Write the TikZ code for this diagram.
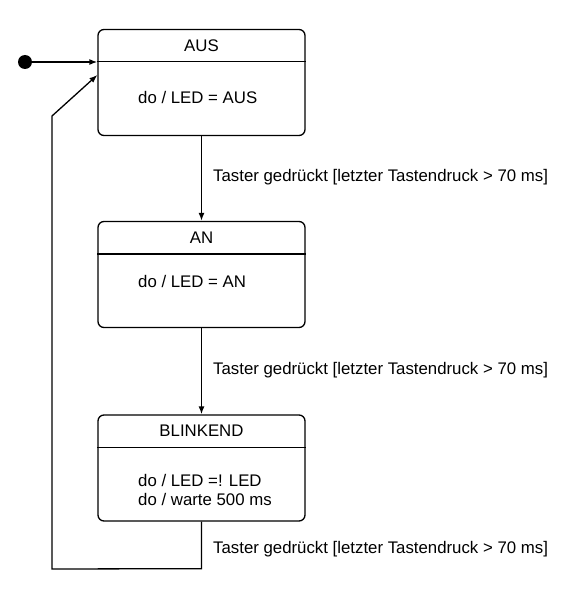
\documentclass[tikz,border=0pt]{standalone}
\usepackage{fontspec}
\setmainfont{Liberation Sans}
\usetikzlibrary{positioning, calc, arrows.meta}
\tikzset{
    zustand/.style={draw, rounded corners=6pt, minimum width=207pt, minimum height=106pt, line width=1.3pt},
    titel/.style={font=\fontsize{16.8}{20}\selectfont, inner sep=0pt},
    inhalt/.style={font=\fontsize{16.8}{18.7}\selectfont, align=left, anchor=west, inner sep=0pt},
    ereignis/.style={font=\fontsize{16.8}{20}\selectfont, anchor=west, inner sep=0pt},
    pfeil/.style={-{Latex[length=8pt,width=6pt]}, line width=1.3pt}
}

\begin{document}
\begin{tikzpicture}[x=1pt,y=1pt]
    \useasboundingbox (0,0) rectangle (566,-599);
    % Define the layout
    \def\titelH{33}
    \def\textX{138}
    
    % Draw states
    \node[zustand] (aus) at (201.5,-82.5) {};
    \node[zustand] (an) at (201.5,-274.5) {};
    \node[zustand] (blink) at (201.5,-468) {};
    
    % Title rows
    \foreach \s/\t in {aus/AUS, an/AN, blink/BLINKEND} {
        \draw[line width=1.3pt] ($(\s.north west)+(0,-\titelH)$) -- ($(\s.north east)+(0,-\titelH)$);
        \node[titel] (\s-titel) at ($(\s.north)+(0,-0.5*\titelH)$) {\t};
    }
    
    % Add activities
    \node[inhalt] (aus-do) at (\textX,-97) {do / LED = AUS};
    \node[inhalt] (an-do) at (\textX,-281) {do / LED = AN};
    \node[inhalt] (blink-do) at (\textX,-490) {do / LED =! LED\\do / warte 500 ms};
    
    % Initial state
    \node[circle, fill, inner sep=0pt, minimum size=14pt] (start) at (25,-62) {};
    \draw[pfeil] (start) -- (start -| aus.west);
    
    % Transitions
    \draw[pfeil] (aus.south) -- (an.north);
    \draw[pfeil] (an.south) -- (blink.north);
    \coordinate (r1) at ($(blink.south)+(0,-47)$);
    \coordinate (r2) at (52,-569);
    \coordinate (r3) at (52,-116);
    \draw[pfeil] (blink.south) -- (r1) -- (r2) -- (r3) -- ([yshift=7.5pt]aus.west);
    
    % Add labels
    \node[ereignis] (e1) at (213,-177) {Taster gedrückt [letzter Tastendruck > 70 ms]};
    \node[ereignis] (e2) at (213,-370) {Taster gedrückt [letzter Tastendruck > 70 ms]};
    \node[ereignis] (e3) at (213,-549) {Taster gedrückt [letzter Tastendruck > 70 ms]};
\end{tikzpicture}
\end{document}
